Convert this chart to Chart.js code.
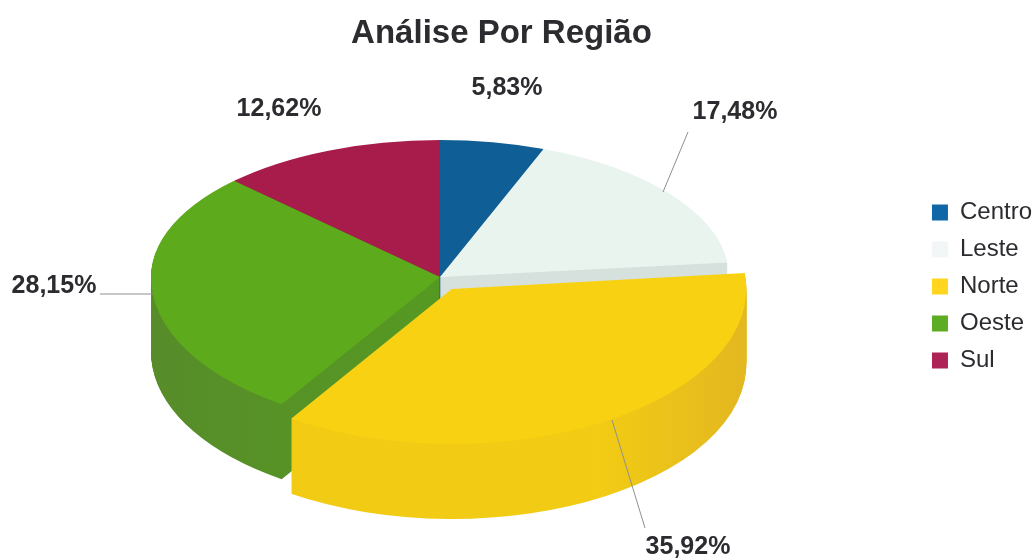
<!DOCTYPE html>
<html lang="pt">
<head>
<meta charset="utf-8">
<style>html,body{margin:0;padding:0;background:#fff}#wrap{width:1033px;height:558px;position:relative}</style>
<script src="https://cdn.jsdelivr.net/npm/chart.js@4/dist/chart.umd.min.js"></script>
</head>
<body>
<div id="wrap"><canvas id="c" width="1033" height="558"></canvas></div>
<script>
const categories = ['Centro', 'Leste', 'Norte', 'Oeste', 'Sul'];
const shares = [5.83, 17.48, 35.92, 28.15, 12.62];
const titleText = 'Análise Por Região';

const faceColors = ['#0F5F96', '#EAF4EE', '#F8D212', '#5DAA1C', '#A81C4C'];
const legendColors = ['#1067A8', '#F3F6F6', '#FFD520', '#5CAC24', '#AD2355'];
const wallColors = [
  ['#0B4B78', '#0B4B78', '#0B4B78'],
  ['#D6E1DD', '#D6E1DD', '#D6E1DD'],
  ['#F1CA14', '#F2CC14', '#E3B820'],
  ['#578C2A', '#55A01E', '#55A01E'],
  ['#86163C', '#86163C', '#86163C']
];
const explode = [0, 0, 1, 0, 0];

// Layout of the squashed pie (not data)
const CX = 440, CY = 277, R = 289, DEPTH = 75;
const SCALE_TOP = 137 / 289, SCALE_BOTTOM = 152 / 289;
const EXPLODE_OFFSET = 98;
const labelPlacement = [
  { x: 507, y: 86 },
  { x: 735, y: 110, line: [688, 132, 663, 192] },
  { x: 688, y: 545, line: [612, 420, 645, 528] },
  { x: 54, y: 284, line: [100, 294, 153, 294] },
  { x: 279, y: 107 }
];

function paint(ctx, arc, color, s, cx, cy) {
  const original = arc.options;
  const o = Object.create(original);
  o.backgroundColor = color;
  arc.options = o;
  ctx.save();
  ctx.translate(cx, cy);
  ctx.scale(1, s);
  ctx.translate(-arc.x, -arc.y);
  arc.draw(ctx);
  ctx.restore();
  arc.options = original;
}

function paintSlice(ctx, chart, arc, color, dy, exploded) {
  if (exploded) { paint(ctx, arc, color, SCALE_BOTTOM, CX - 1, CY + dy + 1); return; }
  const y = CY + dy;
  ctx.save();
  ctx.beginPath(); ctx.rect(0, 0, chart.width, y + 0.5); ctx.clip();
  paint(ctx, arc, color, SCALE_TOP, CX, y);
  ctx.restore();
  ctx.save();
  ctx.beginPath(); ctx.rect(0, y - 0.5, chart.width, chart.height); ctx.clip();
  paint(ctx, arc, color, SCALE_BOTTOM, CX, y);
  ctx.restore();
}

function wallGradient(ctx, arc, i) {
  const g = ctx.createLinearGradient(arc.x - R, 0, arc.x + R, 0);
  g.addColorStop(0, wallColors[i][0]);
  g.addColorStop(0.75, wallColors[i][1]);
  g.addColorStop(1, wallColors[i][2]);
  return g;
}

const pie3d = {
  id: 'pie3d',
  beforeDatasetDraw(chart) {
    const ctx = chart.ctx;
    const arcs = chart.getDatasetMeta(0).data;
    const back = [0, 4, 1, 3];
    back.forEach(i => {
      const g = wallGradient(ctx, arcs[i], i);
      for (let d = DEPTH; d >= 1; d--) paintSlice(ctx, chart, arcs[i], g, d, false);
    });
    back.forEach(i => paintSlice(ctx, chart, arcs[i], faceColors[i], 0, false));
    const front = 2;
    const g = wallGradient(ctx, arcs[front], front);
    for (let d = DEPTH; d >= 1; d--) paintSlice(ctx, chart, arcs[front], g, d, true);
    paintSlice(ctx, chart, arcs[front], faceColors[front], 0, true);
    return false;
  },
  afterDatasetsDraw(chart) {
    const ctx = chart.ctx;
    ctx.save();
    ctx.font = 'bold 25px "Liberation Sans", Arial, sans-serif';
    ctx.textAlign = 'center';
    ctx.textBaseline = 'middle';
    shares.forEach((v, i) => {
      const p = labelPlacement[i];
      if (p.line) {
        ctx.strokeStyle = '#8f8f8f';
        ctx.lineWidth = 1;
        ctx.beginPath();
        ctx.moveTo(p.line[0], p.line[1]);
        ctx.lineTo(p.line[2], p.line[3]);
        ctx.stroke();
      }
      ctx.fillStyle = '#2b2b30';
      ctx.fillText(v.toFixed(2).replace('.', ',') + '%', p.x, p.y + 2);
    });
    ctx.restore();
  }
};

new Chart(document.getElementById('c'), {
  type: 'pie',
  plugins: [pie3d],
  data: {
    labels: categories,
    datasets: [{
      data: shares,
      backgroundColor: faceColors,
      borderWidth: 0,
      offset: explode.map(e => e * EXPLODE_OFFSET)
    }]
  },
  options: {
    responsive: false,
    animation: false,
    radius: R,
    layout: { padding: { left: -39, right: -9, top: 0, bottom: -15 } },
    plugins: {
      tooltip: { enabled: false },
      title: {
        display: true,
        text: titleText,
        color: '#2b2b30',
        font: { family: '"Liberation Sans", Arial, sans-serif', size: 33, weight: 'bold' },
        padding: { top: 14, bottom: 10 }
      },
      legend: {
        position: 'right',
        labels: {
          boxWidth: 16,
          boxHeight: 16,
          padding: 13,
          color: '#2b2b30',
          font: { family: '"Liberation Sans", Arial, sans-serif', size: 24 },
          generateLabels(chart) {
            return categories.map((t, i) => ({
              text: t, fillStyle: legendColors[i], strokeStyle: legendColors[i],
              lineWidth: 0, hidden: false, index: i, fontColor: '#2b2b30'
            }));
          }
        }
      }
    }
  }
});
</script>
</body>
</html>
